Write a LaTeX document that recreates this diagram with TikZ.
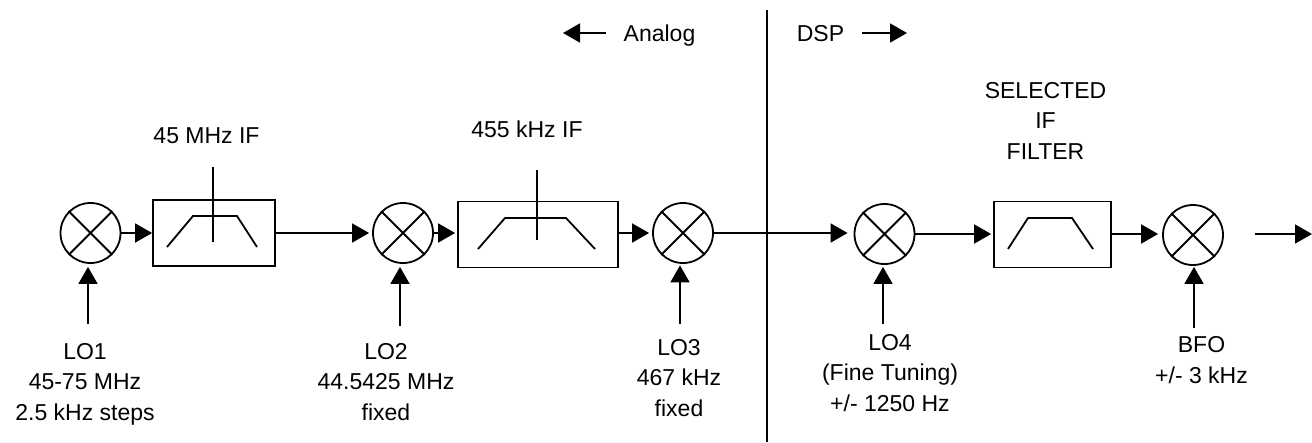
\documentclass[tikz,border=0pt]{standalone}
\usepackage{fontspec}
\setmainfont{Liberation Sans}
\usetikzlibrary{arrows.meta}
\tikzset{
  x=1pt,y=-1pt,
  ln/.style={line width=1.8pt,black},
  arr/.style={ln,-{Triangle[length=17pt,width=19pt]}},
  mixer/.style={circle,draw,line width=1.8pt,minimum size=60pt,inner sep=0pt},
  filt/.style={rectangle,draw,line width=1.8pt,inner sep=0pt},
  lbl/.style={align=center,font=\fontsize{23}{30.5}\selectfont,inner sep=0pt,anchor=north},
  one/.style={font=\fontsize{23}{30.5}\selectfont,inner sep=0pt,anchor=base},
}
\newcommand{\crossmix}[1]{%
  \draw[ln] (#1.45)--(#1.225);
  \draw[ln] (#1.135)--(#1.315);
}
\begin{document}
\begin{tikzpicture}
\useasboundingbox (0,0) rectangle (1312,442);
% mixers
\node[mixer] (m1) at (90.5,233) {};
\node[mixer] (m2) at (403,233) {};
\node[mixer] (m3) at (683,233) {};
\node[mixer] (m4) at (884.5,234) {};
\node[mixer] (m5) at (1193,235) {};
\crossmix{m1}\crossmix{m2}\crossmix{m3}\crossmix{m4}\crossmix{m5}
% filters
\node[filt,minimum width=122pt,minimum height=66pt] (f1) at (214,233) {};
\node[filt,minimum width=160pt,minimum height=66pt] (f2) at (538,234.5) {};
\node[filt,minimum width=117pt,minimum height=66pt] (f3) at (1052.5,234.5) {};
\draw[ln] (167,247)--(193,216)--(237,216)--(257,247);
\draw[ln] (478,249)--(505,218)--(566,218)--(595,249);
\draw[ln] (1008,249)--(1028,218)--(1072,218)--(1093,249);
\coordinate (c1t) at (213,167); \coordinate (c1b) at (213,242);
\coordinate (c2t) at (537,170); \coordinate (c2b) at (537,240);
\draw[ln] (c1t)--(c1b);
\draw[ln] (c2t)--(c2b);
% signal path
\draw[arr] (m1.east)--(m1.east -| f1.west);
\draw[arr,shorten >=3pt] (f1.east)--(f1.east -| m2.west);
\draw[arr,shorten >=2pt] (m2.east)--(m2.east -| f2.west);
\draw[arr,shorten >=3pt] (m3.west -| f2.east)--(m3.west);
\draw[arr,shorten >=6pt] (m3.east)--(m3.east -| m4.west);
\draw[arr,shorten >=2pt] (m4.east)--(m4.east -| f3.west);
\draw[arr,shorten >=4pt] (m4.east -| f3.east)--(m4.east -| m5.west);
\coordinate (o1) at (1255,234); \coordinate (o2) at (1312,234);
\draw[arr] (o1)--(o2);
% divider
\coordinate (d1) at (767,10); \coordinate (d2) at (767,442);
\draw[ln] (d1)--(d2);
% LO labels
\node[lbl] (lo1) at (85,343) {LO1\\45-75 MHz\\2.5 kHz steps};
\node[lbl] (lo2) at (386,343) {LO2\\44.5425 MHz\\fixed};
\node[lbl] (lo3) at (679,339) {LO3\\467 kHz\\fixed};
\node[lbl] (lo4) at (890,334) {LO4\\(Fine Tuning)\\+/- 1250 Hz};
\node[lbl] (bfo) at (1201.5,336.5) {BFO\\+/- 3 kHz};
\coordinate (a1) at (88,324);\coordinate (a2) at (400,326);\coordinate (a3) at (680,324);\coordinate (a4) at (883,324);\coordinate (a5) at (1194,328);
\draw[arr,shorten >=3pt] (a1)--(a1 |- m1.south);
\draw[arr,shorten >=3pt] (a2)--(a2 |- m2.south);
\draw[arr,shorten >=1.5pt] (a3)--(a3 |- m3.south);
\draw[arr,shorten >=2pt] (a4)--(a4 |- m4.south);
\draw[arr,shorten >=1pt] (a5)--(a5 |- m5.south);
% top labels
\node[one] (t1) at (206.5,143) {45 MHz IF};
\node[one] (t2) at (527,137) {455 kHz IF};
\node[lbl] (t3) at (1045.5,82) {SELECTED\\IF\\FILTER};
\node[one] (an) at (659.5,41) {Analog};
\node[one] (ds) at (820.5,41) {DSP};
\coordinate (l1) at (606,33); \coordinate (l2) at (563,33);
\coordinate (r1) at (862,33); \coordinate (r2) at (907,33);
\draw[arr] (l1)--(l2);
\draw[arr] (r1)--(r2);
\end{tikzpicture}
\end{document}
